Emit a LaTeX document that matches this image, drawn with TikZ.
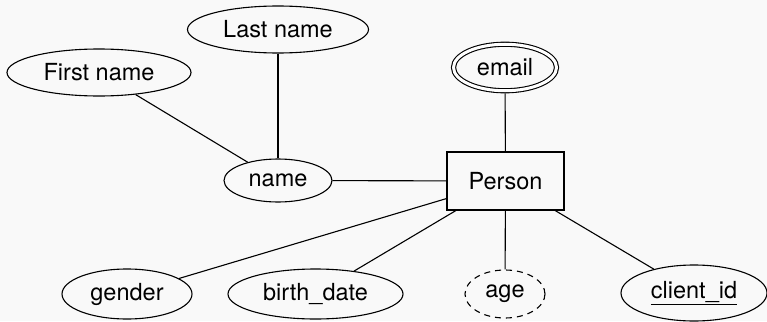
\documentclass[tikz,border=0pt]{standalone}
\usepackage{fontspec}
\setmainfont{TeX Gyre Heros}
\usetikzlibrary{shapes.geometric}
\definecolor{bgc}{RGB}{249,249,249}
\begin{document}
\begin{tikzpicture}[x=1pt,y=-1pt,
  every node/.style={font=\fontsize{23.5}{28}\selectfont, inner sep=0pt},
  attr/.style={ellipse, draw, line width=1.1pt},
  ent/.style={rectangle, draw, line width=1.1pt},
  conn/.style={line width=1.1pt}]
\fill[bgc] (0,0) rectangle (767,321);
\useasboundingbox (0,0) rectangle (767,321);
\node[attr, minimum width=181pt, minimum height=47pt] (last) at (278,29.5) {Last name};
\node[attr, minimum width=184pt, minimum height=47pt] (first) at (99,72.5) {First name};
\node[attr, minimum width=108pt, minimum height=43pt] (name) at (278,180.5) {name};
\node[attr, double, double distance=3pt, outer sep=2.6pt, minimum width=103pt, minimum height=46.5pt] (email) at (505,67.5) {email};
\node[ent, minimum width=117pt, minimum height=58pt] (person) at (505.5,181) {Person};
\node[attr, minimum width=130pt, minimum height=50pt] (gender) at (127,294) {gender};
\node[attr, minimum width=175pt, minimum height=50pt] (birth) at (315.5,294) {birth\_date};
\node[attr, dashed, dash pattern=on 6pt off 5pt, minimum width=80pt, minimum height=48pt] (age) at (505,294) {age};
\node[attr, minimum width=146pt, minimum height=56pt] (client) at (694,293) {\underline{client\_id}};
\draw[conn] (first) -- (name);
\draw[conn] (last) -- (name);
\draw[conn] (name) -- (person);
\draw[conn] (email) -- (person);
\draw[conn] (person) -- (gender);
\draw[conn] (person) -- (birth);
\draw[conn] (person) -- (age);
\draw[conn] (person) -- (client);
\end{tikzpicture}
\end{document}
